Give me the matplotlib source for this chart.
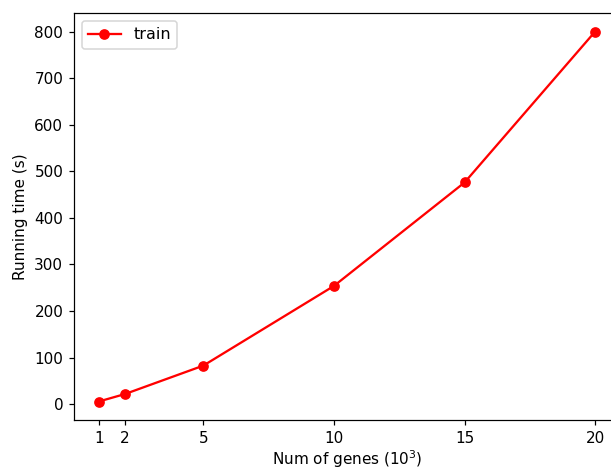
import matplotlib
matplotlib.use("Agg")
import matplotlib.pyplot as plt

# Gene counts (thousands) and training times in seconds
num_genes = [1, 2, 5, 10, 15, 20]
train_time = [6, 22, 83, 254, 476, 800]

dpi = 110
fig = plt.figure(figsize=(611 / dpi, 469 / dpi), dpi=dpi)
ax = fig.add_axes([74 / 611, 49 / 469, 546 / 611, 407 / 469])

ax.plot(num_genes, train_time, color='red', marker='o', label='train')
ax.set_xticks(num_genes)
ax.set_xlabel('Num of genes ($10^3$)', labelpad=2)
ax.set_ylabel('Running time (s)')
ax.legend(loc='upper left', fontsize=10.5)

fig.savefig('out.png', dpi=dpi)
